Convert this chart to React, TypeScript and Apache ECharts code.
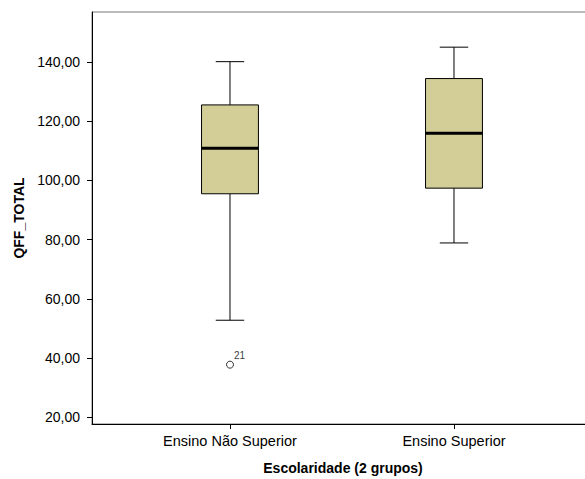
import React, { useEffect, useRef } from "react";
import * as echarts from "echarts";

const categories = ["Ensino Não Superior", "Ensino Superior"];
const lowerWhisker = [52.8, 78.9];
const q1 = [95.5, 97.4];
const median = [110.9, 115.9];
const q3 = [125.5, 134.4];
const upperWhisker = [140.1, 145.0];
const outlierCategory = [0];
const outlierValue = [37.8];
const outlierLabel = ["21"];
const yTicks = [20, 40, 60, 80, 100, 120, 140];
const xTicks = [0, 1];

const FONT = "'Liberation Sans', Arial, sans-serif";

export default function App() {
  const ref = useRef<HTMLDivElement>(null);

  useEffect(() => {
    if (!ref.current) return;
    const chart = echarts.init(ref.current, undefined, { renderer: "svg" });

    const boxData = categories.map((_, i) => [
      i,
      lowerWhisker[i],
      q1[i],
      median[i],
      q3[i],
      upperWhisker[i],
    ]);
    const outlierData = outlierCategory.map((c, i) => ({
      value: [c, outlierValue[i]],
      label: { formatter: outlierLabel[i] },
    }));

    const boxWidth = 0.254;

    chart.setOption({
      animation: false,
      backgroundColor: "#ffffff",
      grid: {
        left: 92,
        width: 502,
        top: 12,
        bottom: 55,
        outerBoundsMode: "none",
        containLabel: false,
        show: true,
        borderColor: "#777777",
        borderWidth: 1,
        backgroundColor: "transparent",
      },
      xAxis: {
        type: "value",
        min: -0.616,
        max: 1.625,
        name: "Escolaridade (2 grupos)",
        nameLocation: "middle",
        nameGap: 37,
        nameTextStyle: {
          fontFamily: FONT,
          fontWeight: "bold",
          fontSize: 14,
          color: "#000",
        },
        axisLine: {
          show: true,
          onZero: false,
          lineStyle: { color: "#000", width: 1 },
        },
        axisTick: {
          show: true,
          length: 5,
          customValues: xTicks,
          lineStyle: { color: "#000" },
        },
        axisLabel: {
          customValues: xTicks,
          formatter: (v: number) => categories[Math.round(v)] ?? "",
          fontFamily: FONT,
          fontSize: 14.5,
          color: "#000",
          margin: 9,
        },
        splitLine: { show: false },
      },
      yAxis: {
        type: "value",
        min: 17.77,
        max: 156.87,
        name: "QFF_TOTAL",
        nameLocation: "middle",
        nameGap: 66,
        nameTextStyle: {
          fontFamily: FONT,
          fontWeight: "bold",
          fontSize: 14,
          color: "#000",
        },
        axisLine: {
          show: true,
          onZero: false,
          lineStyle: { color: "#000", width: 1 },
        },
        axisTick: {
          show: true,
          length: 5,
          customValues: yTicks,
          lineStyle: { color: "#000" },
        },
        axisLabel: {
          customValues: yTicks,
          formatter: (v: number) => v.toFixed(2).replace(".", ","),
          fontFamily: FONT,
          fontSize: 14,
          color: "#000",
          margin: 12,
        },
        splitLine: { show: false },
      },
      series: [
        {
          type: "custom",
          data: boxData,
          encode: { x: 0, y: [1, 2, 3, 4, 5] },
          renderItem: (params: any, api: any) => {
            const x = api.value(0);
            const pLow = api.coord([x, api.value(1)]);
            const pQ1 = api.coord([x, api.value(2)]);
            const pMed = api.coord([x, api.value(3)]);
            const pQ3 = api.coord([x, api.value(4)]);
            const pHigh = api.coord([x, api.value(5)]);
            const halfW = api.size([boxWidth, 0])[0] / 2;
            const capHalf = halfW / 2;
            const cx = pMed[0];
            const stroke = "#000";
            return {
              type: "group",
              children: [
                {
                  type: "line",
                  shape: { x1: cx, y1: pLow[1], x2: cx, y2: pQ1[1] },
                  style: { stroke, lineWidth: 1 },
                },
                {
                  type: "line",
                  shape: { x1: cx, y1: pQ3[1], x2: cx, y2: pHigh[1] },
                  style: { stroke, lineWidth: 1 },
                },
                {
                  type: "line",
                  shape: {
                    x1: cx - capHalf,
                    y1: pLow[1],
                    x2: cx + capHalf,
                    y2: pLow[1],
                  },
                  style: { stroke, lineWidth: 1 },
                },
                {
                  type: "line",
                  shape: {
                    x1: cx - capHalf,
                    y1: pHigh[1],
                    x2: cx + capHalf,
                    y2: pHigh[1],
                  },
                  style: { stroke, lineWidth: 1 },
                },
                {
                  type: "rect",
                  shape: {
                    x: cx - halfW,
                    y: pQ3[1],
                    width: halfW * 2,
                    height: pQ1[1] - pQ3[1],
                  },
                  style: { fill: "#d3ce97", stroke, lineWidth: 1 },
                },
                {
                  type: "line",
                  shape: {
                    x1: cx - halfW,
                    y1: pMed[1],
                    x2: cx + halfW,
                    y2: pMed[1],
                  },
                  style: { stroke: "#000", lineWidth: 3 },
                },
              ],
            };
          },
        },
        {
          type: "scatter",
          data: outlierData,
          symbol: "circle",
          symbolSize: 7,
          itemStyle: { color: "#ffffff", borderColor: "#000", borderWidth: 1 },
          label: {
            show: true,
            position: [8, -10],
            fontFamily: FONT,
            fontSize: 10,
            color: "#000",
          },
        },
      ],
    });

    return () => chart.dispose();
  }, []);

  return (
    <div
      ref={ref}
      style={{ position: "fixed", left: 0, top: 0, width: 585, height: 479 }}
    />
  );
}
